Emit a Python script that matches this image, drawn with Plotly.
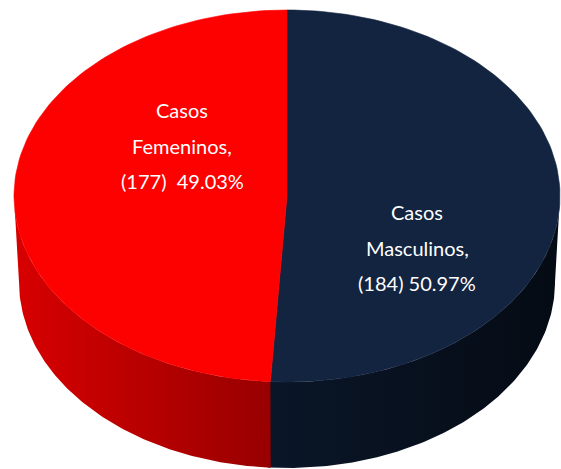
import numpy as np
import plotly.graph_objects as go

# data (clockwise from 12 o'clock)
labels = ["Casos Masculinos", "Casos Femeninos"]
counts = [184, 177]
top_colors = ["#12243f", "#fd0000"]
side_colors = [["#0a1628", "#050b14"], ["#980000", "#d80000"]]
label_pos = [(417, 212), (182, 110)]

W, H = 561, 469
cx, cy, rx, ry = 287, 196, 273, 186
depth, rx_bottom = 86, 268


def arc(a0, a1, r_x, dy=0, n=120):
    a = np.radians(np.linspace(a0, a1, n))
    return cx + r_x * np.sin(a), cy + dy - ry * np.cos(a)


total = sum(counts)
shares = [c / total for c in counts]
starts = np.cumsum([0] + shares[:-1]) * 360
ends = np.cumsum(shares) * 360

fig = go.Figure()

# side walls (front half only, 90..270 deg); first one overlaps a bit to hide the seam
for i in range(len(counts)):
    a0, a1 = max(starts[i], 90), min(ends[i] + (0.6 if i == 0 else 0), 270)
    if a1 <= a0:
        continue
    tx, ty = arc(a0, a1, rx)
    bx, by = arc(a1, a0, rx_bottom, depth)
    if a0 < 180:
        scale = [[0, side_colors[i][0]], [1, side_colors[i][1]]]
    else:
        scale = [[0, side_colors[i][1]], [1, side_colors[i][0]]]
    fig.add_trace(go.Scatter(
        x=np.r_[tx, bx, tx[:1]], y=np.r_[ty, by, ty[:1]],
        mode="lines", fill="toself", line=dict(width=0),
        fillgradient=dict(type="horizontal", colorscale=scale),
        hoverinfo="skip", showlegend=False,
    ))

# top face slices
for i in range(len(counts)):
    ax, ay = arc(starts[i], ends[i], rx)
    fig.add_trace(go.Scatter(
        x=np.r_[cx, ax, cx], y=np.r_[cy, ay, cy],
        mode="lines", fill="toself", fillcolor=top_colors[i],
        line=dict(width=0.6, color=top_colors[i]),
        name=labels[i], hoverinfo="name", showlegend=False,
    ))

# labels
for i in range(len(counts)):
    words = labels[i].split(" ")
    gap = "\u00a0\u00a0" if i == 1 else " "
    lines = [words[0], words[1] + ",", f"({counts[i]}){gap}{shares[i] * 100:.2f}%"]
    x0, y0 = label_pos[i]
    for k, t in enumerate(lines):
        fig.add_annotation(
            x=x0, y=y0 + k * 35.5, text=t, showarrow=False,
            xanchor="center", yanchor="middle",
            font=dict(family="Lato", size=20, color="white"),
        )

fig.update_layout(
    width=W, height=H, margin=dict(l=0, r=0, t=0, b=0),
    paper_bgcolor="white", plot_bgcolor="white",
    xaxis=dict(range=[0, W], visible=False, fixedrange=True),
    yaxis=dict(range=[H, 0], visible=False, fixedrange=True),
)

fig.write_html("out.html", config={"displayModeBar": False},
               post_script="document.body.style.margin='0';")
